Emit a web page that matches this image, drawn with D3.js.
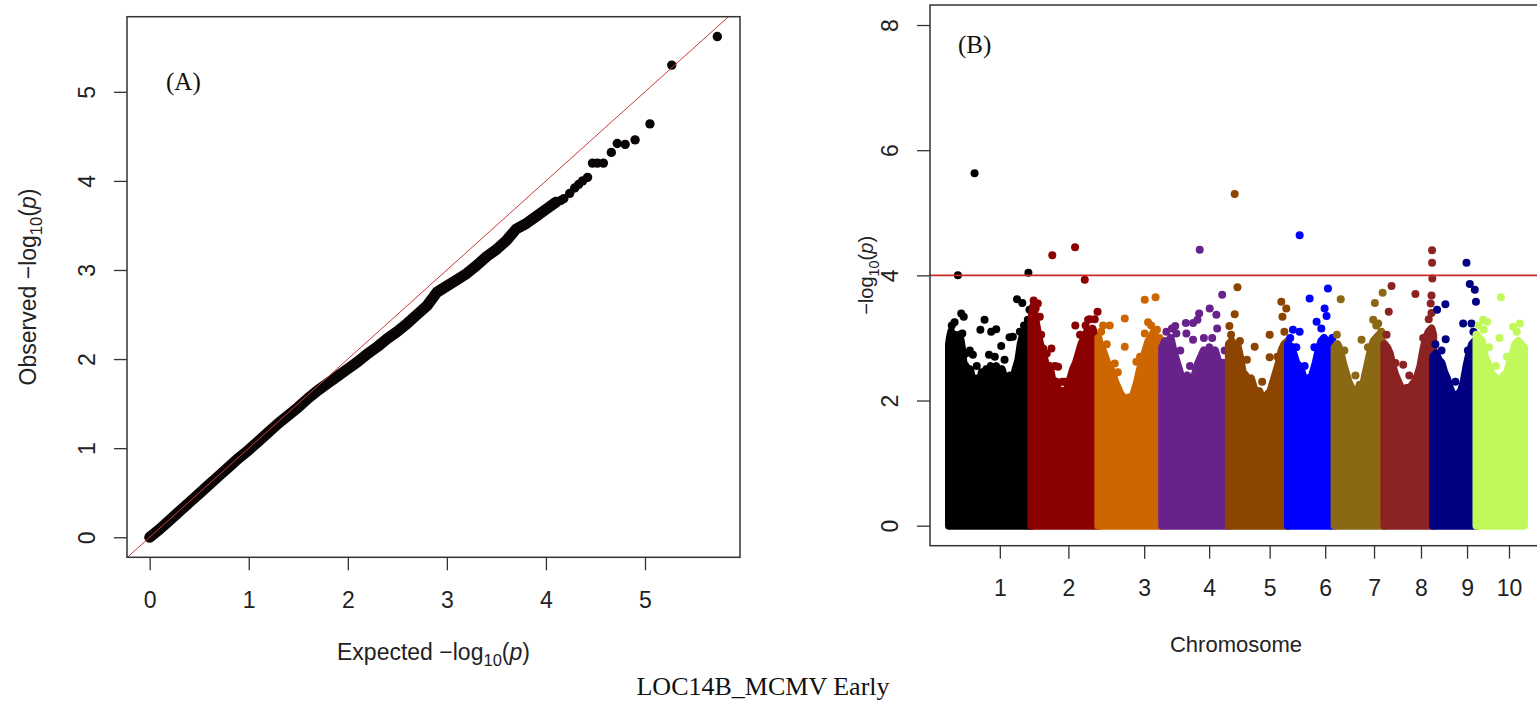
<!DOCTYPE html>
<html>
<head>
<meta charset="utf-8">
<script src="https://cdn.jsdelivr.net/npm/d3@7"></script>
<style>
  body { margin: 0; background: #fff; }
  svg { display: block; }
</style>
</head>
<body>
<svg id="chart"></svg>
<script>
// ---------- QQ plot data ----------
// dense part of the curve
const qqExpected = [0.0, 0.1, 0.2, 0.3, 0.4, 0.5, 0.6, 0.7, 0.8, 0.9, 1.0, 1.1, 1.2, 1.3, 1.4, 1.5, 1.6, 1.7, 1.8, 1.9,
                    2.0, 2.1, 2.2, 2.3, 2.4, 2.5, 2.6, 2.7, 2.8, 2.9, 3.0, 3.1, 3.2, 3.3, 3.4, 3.5, 3.6, 3.7, 3.8, 3.9, 4.0, 4.1];
const qqObserved = [0.00, 0.09, 0.19, 0.29, 0.39, 0.49, 0.59, 0.69, 0.79, 0.89, 0.98, 1.08, 1.18, 1.28, 1.37, 1.46, 1.56, 1.65, 1.73, 1.81,
                    1.89, 1.97, 2.06, 2.14, 2.23, 2.31, 2.40, 2.50, 2.60, 2.75, 2.82, 2.89, 2.96, 3.05, 3.15, 3.23, 3.33, 3.46, 3.52, 3.60, 3.68, 3.76];
// separate points in the tail
const qqTailExpected = [4.15, 4.18, 4.24, 4.29, 4.33, 4.37, 4.42, 4.47, 4.52, 4.58, 4.66, 4.72, 4.80, 4.90, 5.05, 5.27, 5.73];
const qqTailObserved = [3.78, 3.80, 3.86, 3.92, 3.96, 4.00, 4.04, 4.20, 4.20, 4.20, 4.32, 4.42, 4.41, 4.46, 4.64, 5.30, 5.62];
const qqTicks = [0, 1, 2, 3, 4, 5];

// ---------- Manhattan plot data ----------
const chromosomes = ["1", "2", "3", "4", "5", "6", "7", "8", "9", "10"];
const chromLength = [297, 241, 230, 240, 213, 168, 179, 176, 156, 171];   // Mb
const chromColors = ["#000000", "#8B0000", "#CD6600", "#68228B", "#8B4500",
                     "#0000FF", "#8B6914", "#8B2323", "#000080", "#C2F95A"];
const chromTickPos = [183, 430, 703, 937, 1155, 1355, 1531, 1700, 1866, 2017]; // cumulative Mb
const yTicksB = [0, 2, 4, 6, 8];
const threshold = 4;

// upper edge of the dense cloud of SNPs, [position in chromosome (Mb), -log10 p]
const chrProfiles = [
  [[0, 2.9], [3, 3.0], [8, 3.1], [15, 2.95], [22, 3.05], [30, 2.9], [38, 3.05], [46, 2.85], [52, 2.6], [60, 2.55], [68, 2.4],
   [76, 2.5], [84, 2.3], [92, 2.2], [100, 2.35], [110, 2.25], [118, 2.45], [126, 2.35], [134, 2.5], [142, 2.4], [150, 2.55],
   [160, 2.45], [170, 2.55], [180, 2.4], [190, 2.5], [200, 2.35], [210, 2.25], [220, 2.4], [230, 2.3], [240, 2.5], [250, 2.65],
   [258, 2.9], [266, 3.05], [274, 2.95], [282, 3.15], [290, 3.05], [297, 3.1]],
  [[0, 3.3], [6, 3.5], [12, 3.35], [18, 3.2], [26, 3.0], [34, 2.85], [42, 2.75], [50, 2.6], [58, 2.5], [66, 2.55], [74, 2.35],
   [82, 2.25], [90, 2.3], [98, 2.1], [106, 2.0], [114, 2.15], [122, 2.05], [130, 2.2], [140, 2.35], [150, 2.5], [160, 2.6],
   [170, 2.75], [180, 2.9], [190, 3.0], [200, 3.1], [210, 3.05], [220, 3.15], [230, 3.0], [241, 2.9]],
  [[0, 3.0], [8, 2.85], [16, 2.8], [24, 2.7], [32, 2.6], [40, 2.55], [50, 2.45], [60, 2.3], [70, 2.2], [80, 2.1], [90, 2.05],
   [100, 2.0], [110, 2.05], [120, 2.0], [130, 2.15], [140, 2.3], [150, 2.5], [160, 2.65], [170, 2.8], [180, 2.95], [190, 3.0],
   [200, 3.1], [210, 2.95], [220, 2.85], [230, 2.75]],
  [[0, 2.85], [10, 2.95], [20, 2.9], [30, 3.0], [40, 2.8], [50, 2.65], [60, 2.5], [70, 2.35], [80, 2.3], [90, 2.4], [100, 2.2],
   [110, 2.3], [120, 2.45], [130, 2.6], [140, 2.7], [150, 2.8], [160, 2.7], [170, 2.85], [180, 2.75], [190, 2.8], [200, 2.65],
   [210, 2.55], [220, 2.6], [230, 2.45], [240, 2.5]],
  [[0, 2.9], [10, 2.95], [20, 2.85], [30, 2.9], [40, 2.7], [50, 2.45], [60, 2.4], [70, 2.3], [80, 2.35], [90, 2.2], [100, 2.1],
   [110, 2.15], [120, 2.0], [130, 2.05], [140, 2.1], [150, 2.15], [160, 2.3], [170, 2.45], [180, 2.6], [190, 2.8], [200, 2.9],
   [213, 2.95]],
  [[0, 2.9], [10, 2.8], [20, 2.75], [30, 2.6], [40, 2.55], [50, 2.45], [60, 2.3], [70, 2.35], [80, 2.3], [90, 2.45], [100, 2.6],
   [110, 2.8], [120, 2.95], [130, 3.0], [140, 2.9], [150, 2.95], [160, 2.85], [168, 2.8]],
  [[0, 2.85], [10, 2.9], [20, 2.8], [30, 2.6], [40, 2.45], [50, 2.3], [60, 2.2], [70, 2.15], [80, 2.1], [90, 2.25], [100, 2.2],
   [110, 2.4], [120, 2.6], [130, 2.8], [140, 2.95], [150, 3.0], [160, 3.05], [170, 2.95], [179, 2.9]],
  [[0, 2.9], [10, 2.85], [20, 2.75], [30, 2.55], [40, 2.4], [50, 2.3], [60, 2.2], [70, 2.15], [80, 2.2], [90, 2.15], [100, 2.25],
   [110, 2.3], [120, 2.4], [130, 2.55], [140, 2.8], [150, 3.0], [160, 3.1], [170, 3.15], [176, 3.05]],
  [[0, 2.7], [10, 2.75], [20, 2.65], [30, 2.6], [40, 2.45], [50, 2.35], [60, 2.2], [70, 2.1], [80, 2.05], [90, 2.1], [100, 2.15],
   [110, 2.3], [120, 2.55], [130, 2.75], [140, 2.9], [150, 2.95], [156, 2.9]],
  [[0, 3.05], [10, 3.0], [20, 2.95], [30, 2.7], [40, 2.6], [50, 2.45], [60, 2.4], [70, 2.35], [80, 2.3], [90, 2.35], [100, 2.4],
   [110, 2.45], [120, 2.6], [130, 2.75], [140, 2.9], [150, 2.95], [160, 2.9], [171, 2.85]]
];

// single SNPs standing out above the cloud, [position in chromosome (Mb), -log10 p]
const chrPeaks = [
  [[32, 4.00], [92, 5.63], [286, 4.04], [44, 3.39], [53, 3.34], [48, 3.07], [128, 3.29], [113, 3.13], [152, 3.10], [170, 3.14],
   [144, 2.73], [188, 2.87], [218, 3.01], [230, 3.02], [86, 2.73], [245, 3.62], [264, 3.56], [284, 3.29], [281, 3.13], [290, 3.45],
   [10, 3.2], [20, 3.25], [60, 2.75], [75, 2.8], [100, 2.55], [165, 2.7], [200, 2.65], [255, 3.1], [270, 3.2], [294, 3.3]],
  [[75, 4.32], [157, 4.45], [192, 3.93], [23, 3.55], [15, 3.47], [30, 3.34], [20, 3.13], [42, 2.83], [72, 2.83], [96, 2.54],
   [111, 2.30], [158, 3.20], [238, 3.42], [204, 3.29], [222, 3.07], [216, 2.91],
   [8, 3.6], [35, 3.05], [55, 2.75], [85, 2.55], [120, 2.3], [175, 3.05], [195, 3.2], [210, 3.3], [228, 3.3]],
  [[17, 3.20], [41, 3.20], [95, 3.31], [95, 2.86], [167, 3.61], [206, 3.65], [179, 3.25], [167, 3.07], [211, 3.13], [137, 2.62], [59, 2.59],
   [10, 3.1], [30, 2.9], [70, 2.45], [150, 2.7], [190, 3.2], [220, 3.0]],
  [[135, 4.41], [47, 3.19], [85, 3.24], [111, 3.24], [133, 3.39], [127, 3.29], [171, 3.47], [195, 3.37], [216, 3.69], [198, 3.15],
   [111, 2.97], [51, 3.07], [87, 3.07], [15, 3.1], [35, 3.15], [65, 2.8], [100, 2.55], [150, 3.0], [180, 3.0], [225, 2.8]],
  [[21, 5.30], [31, 3.81], [21, 3.38], [2, 3.19], [93, 2.86], [147, 3.05], [147, 2.69], [189, 3.58], [207, 3.47], [193, 3.34],
   [8, 3.05], [40, 2.95], [65, 2.65], [120, 2.3], [175, 2.7], [200, 3.1]],
  [[42, 4.64], [144, 3.79], [78, 3.63], [132, 3.47], [139, 3.35], [103, 3.26], [42, 3.10], [12, 2.86], [18, 3.13],
   [8, 3.0], [30, 2.85], [60, 2.55], [95, 2.85], [120, 3.15], [160, 3.0]],
  [[22, 3.62], [145, 3.56], [173, 3.72], [139, 3.29], [157, 3.23], [97, 2.97],
   [8, 3.05], [35, 2.8], [75, 2.4], [120, 2.85], [150, 3.2], [168, 3.1]],
  [[26, 3.83], [16, 3.42], [112, 3.70], [172, 4.40], [172, 4.20], [173, 3.95], [170, 3.68], [167, 3.55], [170, 3.40], [68, 2.57],
   [8, 3.05], [40, 2.6], [90, 2.4], [140, 3.0], [160, 3.3]],
  [[120, 4.20], [132, 3.86], [150, 3.77], [154, 3.58], [44, 3.54], [14, 3.45], [108, 3.23], [138, 3.23], [45, 2.98],
   [8, 2.9], [30, 2.8], [80, 2.3], [125, 2.8], [145, 3.1]],
  [[88, 3.65], [24, 3.29], [38, 3.26], [132, 3.18], [156, 3.23], [26, 3.13], [83, 3.00],
   [8, 3.2], [45, 2.85], [70, 2.55], [110, 2.7], [145, 3.1]]
];

// ---------- page ----------
const width = 1537, height = 703;
const sans = "'Liberation Sans', Arial, sans-serif";
const serif = "'Liberation Serif', 'Times New Roman', serif";
const axisColor = "#333";

const svg = d3.select("#chart")
    .attr("width", width)
    .attr("height", height)
    .style("background", "#fff");

// writes "-log10(p)" with subscript and italic p
function logLabel(text, prefix, size) {
    if (prefix) text.append("tspan").text(prefix + " ");
    text.append("tspan").text("\u2212log");
    text.append("tspan").attr("font-size", size * 0.72).attr("dy", size * 0.28).text("10");
    text.append("tspan").attr("dy", -size * 0.28).text("(");
    text.append("tspan").attr("font-style", "italic").text("p");
    text.append("tspan").text(")");
}

function styleTicks(g, size) {
    g.select(".domain").remove();
    g.selectAll(".tick line").attr("stroke", axisColor).attr("stroke-width", 1.3);
    g.selectAll(".tick text")
        .attr("fill", "#222")
        .style("font-family", sans)
        .style("font-size", size + "px");
}

// rotated y tick labels, as R draws them
function rotateYLabels(g) {
    g.selectAll(".tick text")
        .attr("x", null).attr("y", null)
        .attr("dy", "0.36em")
        .attr("text-anchor", "middle")
        .attr("transform", "translate(-40,0) rotate(-90)");
}

// ================= Panel A : QQ plot =================
const boxA = { left: 127, right: 740, top: 16.7, bottom: 557.3 };
const xQ = d3.scaleLinear().domain([-0.229, 5.959]).range([boxA.left, boxA.right]);
const yQ = d3.scaleLinear().domain([-0.225, 5.843]).range([boxA.bottom, boxA.top]);

const qqDense = qqExpected.map((e, i) => [e, qqObserved[i]]);
const qqTail = qqTailExpected.map((e, i) => [e, qqTailObserved[i]]);

svg.append("path")
    .datum(qqDense)
    .attr("fill", "none")
    .attr("stroke", "#0a0505")
    .attr("stroke-width", 11)
    .attr("stroke-linecap", "round")
    .attr("stroke-linejoin", "round")
    .attr("d", d3.line().x(d => xQ(d[0])).y(d => yQ(d[1])));

svg.append("g").selectAll("circle")
    .data(qqDense.concat(qqTail))
    .join("circle")
    .attr("cx", d => xQ(d[0]))
    .attr("cy", d => yQ(d[1]))
    .attr("r", 4.7)
    .attr("fill", "#0a0505");

// y = x reference line, clipped to the plot box
const lineLo = Math.max(xQ.domain()[0], yQ.domain()[0]);
const lineHi = Math.min(xQ.domain()[1], yQ.domain()[1]);
svg.append("line")
    .attr("x1", xQ(lineLo)).attr("y1", yQ(lineLo))
    .attr("x2", xQ(lineHi)).attr("y2", yQ(lineHi))
    .attr("stroke", "#c83a3a")
    .attr("stroke-width", 1);

svg.append("rect")
    .attr("x", boxA.left).attr("y", boxA.top)
    .attr("width", boxA.right - boxA.left).attr("height", boxA.bottom - boxA.top)
    .attr("fill", "none").attr("stroke", axisColor).attr("stroke-width", 1.5);

svg.append("g")
    .attr("transform", `translate(0,${boxA.bottom})`)
    .call(d3.axisBottom(xQ).tickValues(qqTicks).tickFormat(d3.format("d")).tickSize(13).tickPadding(21))
    .call(g => styleTicks(g, 23));

svg.append("g")
    .attr("transform", `translate(${boxA.left},0)`)
    .call(d3.axisLeft(yQ).tickValues(qqTicks).tickFormat(d3.format("d")).tickSize(13))
    .call(g => styleTicks(g, 23))
    .call(rotateYLabels);

svg.append("text")
    .attr("x", (boxA.left + boxA.right) / 2).attr("y", 660)
    .attr("text-anchor", "middle")
    .attr("fill", "#222")
    .style("font-family", sans).style("font-size", "23px")
    .call(t => logLabel(t, "Expected", 23));

svg.append("text")
    .attr("transform", `translate(36,${(boxA.top + boxA.bottom) / 2}) rotate(-90)`)
    .attr("text-anchor", "middle")
    .attr("fill", "#222")
    .style("font-family", sans).style("font-size", "23px")
    .call(t => logLabel(t, "Observed", 23));

svg.append("text")
    .attr("x", 166).attr("y", 89.5)
    .attr("fill", "#111")
    .style("font-family", serif).style("font-size", "25px")
    .text("(A)");

// ================= Panel B : Manhattan plot =================
const boxB = { left: 930, right: 1542, top: 5, bottom: 545.7 };
const chromStart = d3.cumsum([0].concat(chromLength.slice(0, -1)));
const xM = d3.scaleLinear().domain([-68.5, 2136]).range([boxB.left, boxB.right]);
const yM = d3.scaleLinear().domain([-0.32, 8.32]).range([boxB.bottom, boxB.top]);
const dotR = 4;

const manhattan = svg.append("g");
chromosomes.forEach((chr, i) => {
    const start = chromStart[i];
    const area = d3.area()
        .x(d => xM(start + d[0]))
        .y0(yM(0))
        .y1(d => yM(d[1]));

    manhattan.append("path")
        .datum(chrProfiles[i])
        .attr("d", area)
        .attr("fill", chromColors[i])
        .attr("stroke", chromColors[i])
        .attr("stroke-width", dotR * 2)
        .attr("stroke-linejoin", "round");

    manhattan.append("g").selectAll("circle")
        .data(chrPeaks[i])
        .join("circle")
        .attr("cx", d => xM(start + d[0]))
        .attr("cy", d => yM(d[1]))
        .attr("r", dotR)
        .attr("fill", chromColors[i]);
});

svg.append("line")
    .attr("x1", boxB.left).attr("x2", boxB.right)
    .attr("y1", yM(threshold)).attr("y2", yM(threshold))
    .attr("stroke", "#cc2a2a")
    .attr("stroke-width", 1.6);

svg.append("rect")
    .attr("x", boxB.left).attr("y", boxB.top)
    .attr("width", boxB.right - boxB.left).attr("height", boxB.bottom - boxB.top)
    .attr("fill", "none").attr("stroke", axisColor).attr("stroke-width", 1.5);

svg.append("g")
    .attr("transform", `translate(0,${boxB.bottom})`)
    .call(d3.axisBottom(xM).tickValues(chromTickPos).tickFormat((d, i) => chromosomes[i]).tickSize(13).tickPadding(21))
    .call(g => styleTicks(g, 23));

svg.append("g")
    .attr("transform", `translate(${boxB.left},0)`)
    .call(d3.axisLeft(yM).tickValues(yTicksB).tickFormat(d3.format("d")).tickSize(13))
    .call(g => styleTicks(g, 23))
    .call(rotateYLabels);

svg.append("text")
    .attr("x", (boxB.left + boxB.right) / 2).attr("y", 652)
    .attr("text-anchor", "middle")
    .attr("fill", "#222")
    .style("font-family", sans).style("font-size", "22px")
    .text("Chromosome");

svg.append("text")
    .attr("transform", `translate(873,${(boxB.top + boxB.bottom) / 2}) rotate(-90)`)
    .attr("text-anchor", "middle")
    .attr("fill", "#222")
    .style("font-family", sans).style("font-size", "20px")
    .call(t => logLabel(t, null, 20));

svg.append("text")
    .attr("x", 958).attr("y", 53)
    .attr("fill", "#111")
    .style("font-family", serif).style("font-size", "25px")
    .text("(B)");

// overall caption
svg.append("text")
    .attr("x", 763).attr("y", 695)
    .attr("text-anchor", "middle")
    .attr("fill", "#111")
    .style("font-family", serif).style("font-size", "26px")
    .text("LOC14B_MCMV Early");
</script>
</body>
</html>
